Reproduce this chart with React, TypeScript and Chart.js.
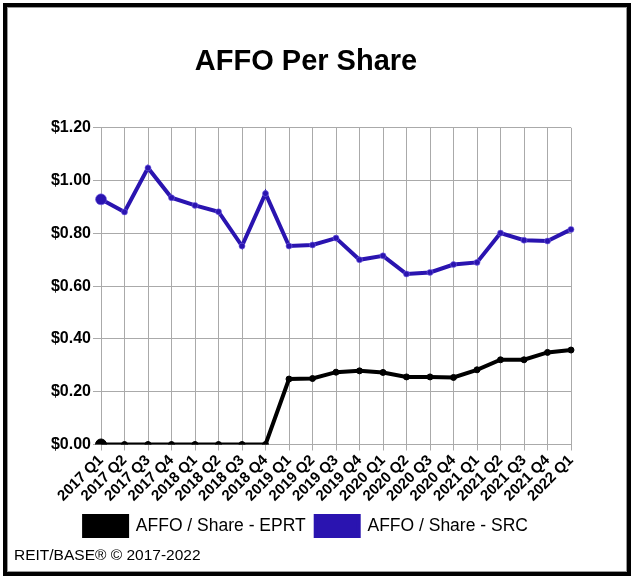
import React, { useEffect, useRef } from "react";
import { Chart, registerables } from "chart.js";

Chart.register(...registerables);

const quarters = [
  "2017 Q1", "2017 Q2", "2017 Q3", "2017 Q4",
  "2018 Q1", "2018 Q2", "2018 Q3", "2018 Q4",
  "2019 Q1", "2019 Q2", "2019 Q3", "2019 Q4",
  "2020 Q1", "2020 Q2", "2020 Q3", "2020 Q4",
  "2021 Q1", "2021 Q2", "2021 Q3", "2021 Q4",
  "2022 Q1",
];

const eprtAffo = [
  0, 0, 0, 0, 0, 0, 0, 0,
  0.248, 0.25, 0.274, 0.279, 0.273, 0.256, 0.256, 0.254,
  0.283, 0.321, 0.321, 0.349, 0.358,
];

const srcAffo = [
  0.929, 0.881, 1.048, 0.935, 0.906, 0.882, 0.752, 0.951,
  0.752, 0.756, 0.782, 0.70, 0.715, 0.646, 0.652, 0.682,
  0.69, 0.801, 0.774, 0.771, 0.815,
];

const yMin = 0;
const yMax = 1.2;
const yStep = 0.2;

const seriesNames = ["AFFO / Share - EPRT", "AFFO / Share - SRC"];
const titleText = "AFFO Per Share";
const footerText = "REIT/BASE\u00AE \u00A9 2017-2022";

const FONT = "'Liberation Sans', Arial, Helvetica, sans-serif";
const SRC_COLOR = "#2a14b0";
const EPRT_COLOR = "#000000";
const GRID = "#aaaaaa";

export default function App() {
  const canvasRef = useRef<HTMLCanvasElement | null>(null);

  useEffect(() => {
    const canvas = canvasRef.current;
    if (!canvas) return;
    Chart.defaults.font.family = FONT;
    const radius = (ctx: any) => (ctx.dataIndex === 0 ? 5.5 : 3);
    const chart = new Chart(canvas, {
      type: "line",
      data: {
        labels: quarters,
        datasets: [
          {
            label: seriesNames[0],
            data: eprtAffo,
            borderColor: EPRT_COLOR,
            backgroundColor: EPRT_COLOR,
            pointBackgroundColor: EPRT_COLOR,
            pointBorderColor: EPRT_COLOR,
            borderWidth: 4,
            pointRadius: radius,
            pointBorderWidth: 1,
            tension: 0,
          },
          {
            label: seriesNames[1],
            data: srcAffo,
            borderColor: SRC_COLOR,
            backgroundColor: SRC_COLOR,
            pointBackgroundColor: SRC_COLOR,
            pointBorderColor: "rgba(120,100,230,0.6)",
            borderWidth: 4,
            pointRadius: radius,
            pointBorderWidth: 1,
            tension: 0,
          },
        ],
      },
      options: {
        animation: false,
        responsive: false,
        maintainAspectRatio: false,
        layout: { padding: { left: 34, right: 56, top: 0, bottom: 26 } },
        plugins: {
          title: {
            display: true,
            text: titleText,
            color: "#000",
            font: { size: 29, weight: "bold", family: FONT },
            padding: { top: 38, bottom: 48 },
          },
          legend: {
            display: true,
            position: "bottom",
            labels: {
              boxWidth: 43,
              boxHeight: 20,
              color: "#000",
              padding: 10,
              font: { size: 17.5, family: FONT },
            },
          },
          tooltip: { enabled: false },
        },
        scales: {
          x: {
            grid: { color: GRID, lineWidth: 1, tickLength: 6 },
            border: { color: GRID },
            ticks: {
              color: "#000",
              autoSkip: false,
              minRotation: 45,
              maxRotation: 45,
              padding: 1,
              font: { size: 15, weight: "bold", family: FONT },
            },
            afterFit: (scale: any) => {
              scale.height = 61.5;
            },
          },
          y: {
            min: yMin,
            max: yMax,
            grid: { color: GRID, lineWidth: 1, tickLength: 8 },
            border: { color: GRID },
            ticks: {
              stepSize: yStep,
              color: "#000",
              padding: 2,
              font: { size: 16, weight: "bold", family: FONT },
              callback: (v: any) => "$" + Number(v).toFixed(2),
            },
            afterFit: (scale: any) => {
              scale.width = 60;
            },
          },
        },
      },
    });
    return () => chart.destroy();
  }, []);

  return (
    <div
      style={{
        position: "absolute",
        left: 3,
        top: 3,
        width: 628,
        height: 573,
        boxSizing: "border-box",
        border: "4px solid #000",
        boxShadow: "inset 0 0 0 1px #999",
        background: "#fff",
      }}
    >
      <canvas ref={canvasRef} width={620} height={565} style={{ display: "block" }} />
      <div
        style={{
          position: "absolute",
          left: 7,
          top: 538,
          fontFamily: FONT,
          fontSize: 15.5,
          lineHeight: "20px",
          color: "#000",
          whiteSpace: "nowrap",
        }}
      >
        {footerText}
      </div>
    </div>
  );
}
